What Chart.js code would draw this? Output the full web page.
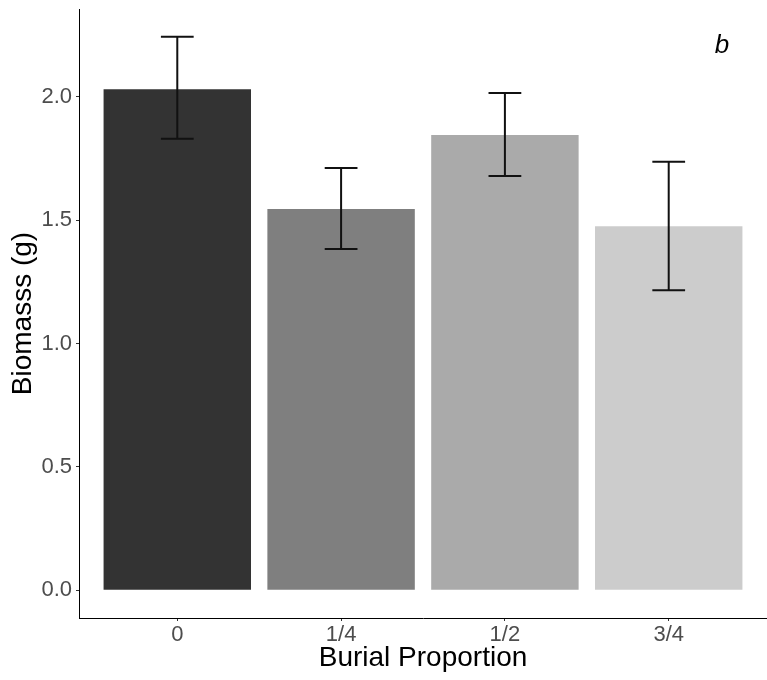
<!DOCTYPE html>
<html>
<head>
<meta charset="utf-8">
<script src="https://cdn.jsdelivr.net/npm/chart.js@4"></script>
<style>
  body { margin: 0; background: #fff; }
  canvas { display: block; }
</style>
</head>
<body>
<canvas id="barchart" width="767" height="680"></canvas>
<script>
// data
const categories = ['0', '1/4', '1/2', '3/4'];
const biomass = [2.03, 1.545, 1.845, 1.475];
const errLow = [1.829, 1.383, 1.679, 1.216];
const errHigh = [2.243, 1.711, 2.015, 1.736];
const yTicks = [0, 0.5, 1.0, 1.5, 2.0];
const barColors = ['#333333', '#7f7f7f', '#aaaaaa', '#cccccc'];

const font = 'Liberation Sans, Arial, sans-serif';

// error bars + panel letter
const errorBars = {
  id: 'errorBars',
  afterDatasetsDraw(chart) {
    const ctx = chart.ctx;
    const x = chart.scales.x;
    const y = chart.scales.y;
    const half = x.getPixelForValue(1.1) - x.getPixelForValue(1);
    ctx.save();
    ctx.strokeStyle = '#111';
    ctx.lineWidth = 2;
    errLow.forEach((lo, i) => {
      const px = x.getPixelForValue(i + 1);
      const y1 = y.getPixelForValue(lo);
      const y2 = y.getPixelForValue(errHigh[i]);
      ctx.beginPath();
      ctx.moveTo(px, y1); ctx.lineTo(px, y2);
      ctx.moveTo(px - half, y1); ctx.lineTo(px + half, y1);
      ctx.moveTo(px - half, y2); ctx.lineTo(px + half, y2);
      ctx.stroke();
    });
    const area = chart.chartArea;
    ctx.fillStyle = '#000';
    ctx.font = 'italic 26px ' + font;
    ctx.textAlign = 'center';
    ctx.textBaseline = 'alphabetic';
    ctx.fillText('b', area.right - 45, area.top + 44);
    ctx.restore();
  }
};

const data = {
  datasets: [{
    label: 'Biomass',
    data: biomass.map((v, i) => ({ x: i + 1, y: v })),
    backgroundColor: barColors,
    borderWidth: 0,
    categoryPercentage: 0.9,
    barPercentage: 1
  }]
};

new Chart(document.getElementById('barchart'), {
  type: 'bar',
  data: data,
  plugins: [errorBars],
  options: {
    responsive: false,
    animation: false,
    layout: { padding: { top: 9, right: 0, left: 0, bottom: 0 } },
    plugins: { legend: { display: false }, tooltip: { enabled: false } },
    scales: {
      x: {
        type: 'linear',
        min: 0.4,
        max: 4.6,
        offset: false,
        afterBuildTicks: s => { s.ticks = categories.map((c, i) => ({ value: i + 1 })); },
        afterFit: s => { s.height = 62; s.paddingLeft = 0; s.paddingRight = 0; },
        grid: { drawOnChartArea: false, offset: false, tickLength: 3, tickColor: '#333' },
        border: { display: true, color: '#000', width: 1 },
        ticks: {
          padding: 1,
          color: '#4d4d4d',
          font: { family: font, size: 22 },
          callback: v => categories[Math.round(v) - 1]
        },
        title: {
          display: true,
          text: 'Burial Proportion',
          color: '#000',
          font: { family: font, size: 28 },
          padding: { top: 0, bottom: 5 }
        }
      },
      y: {
        min: -0.112,
        max: 2.355,
        afterBuildTicks: s => { s.ticks = yTicks.map(v => ({ value: v })); },
        afterFit: s => { s.width = 79; s.paddingTop = 0; s.paddingBottom = 0; },
        grid: { drawOnChartArea: false, tickLength: 3, tickColor: '#333' },
        border: { display: true, color: '#000', width: 1 },
        ticks: {
          padding: 4,
          color: '#4d4d4d',
          font: { family: font, size: 22 },
          callback: v => v.toFixed(1)
        },
        title: {
          display: true,
          text: 'Biomasss (g)',
          color: '#000',
          font: { family: font, size: 28 },
          padding: { top: 6, bottom: 0 }
        }
      }
    }
  }
});
</script>
</body>
</html>
